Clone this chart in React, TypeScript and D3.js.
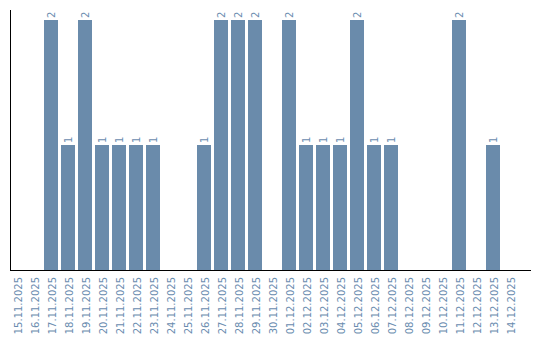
import React from "react";
import * as d3 from "d3";

const dates = [
  "15.11.2025", "16.11.2025", "17.11.2025", "18.11.2025", "19.11.2025",
  "20.11.2025", "21.11.2025", "22.11.2025", "23.11.2025", "24.11.2025",
  "25.11.2025", "26.11.2025", "27.11.2025", "28.11.2025", "29.11.2025",
  "30.11.2025", "01.12.2025", "02.12.2025", "03.12.2025", "04.12.2025",
  "05.12.2025", "06.12.2025", "07.12.2025", "08.12.2025", "09.12.2025",
  "10.12.2025", "11.12.2025", "12.12.2025", "13.12.2025", "14.12.2025",
];
const values = [
  0, 0, 2, 1, 2, 1, 1, 1, 1, 0,
  0, 1, 2, 2, 2, 0, 2, 1, 1, 1,
  2, 1, 1, 0, 0, 0, 2, 0, 1, 0,
];

const W = 540;
const H = 340;
const BAR = "#6a8bab";
const TXT = "#6a8caf";
const FONT = "DejaVu Sans, sans-serif";

export default function App() {
  const x = d3.scaleBand<string>().domain(dates).range([10, 520]).paddingInner(0).paddingOuter(0);
  const y = d3.scaleLinear().domain([0, 2]).range([270, 20]);
  const bw = x.bandwidth() - 3;
  return (
    <svg width={W} height={H} style={{ position: "absolute", left: 0, top: 0 }}>
      {dates.map((d, i) => {
        const v = values[i];
        if (!v) return null;
        const x0 = x(d)!;
        return (
          <g key={d}>
            <rect x={x0} y={y(v)} width={bw} height={y(0) - y(v)} fill={BAR} />
            <text
              transform={`translate(${x0 + bw / 2},${y(v) - 2}) rotate(-90)`}
              dy="0.35em"
              fontSize={10}
              fontFamily={FONT}
              fill={TXT}
              textAnchor="start"
            >
              {v}
            </text>
          </g>
        );
      })}
      <line x1={10.5} x2={10.5} y1={10} y2={270} stroke="#000" strokeWidth={1} />
      <line x1={10} x2={531} y1={270.5} y2={270.5} stroke="#000" strokeWidth={1} />
      {dates.map((d) => (
        <text
          key={"l" + d}
          transform={`translate(${x(d)! + bw / 2 + 1},277) rotate(-90)`}
          dy="0.35em"
          fontSize={10}
          fontFamily={FONT}
          fill={TXT}
          textAnchor="end"
        >
          {d}
        </text>
      ))}
    </svg>
  );
}
